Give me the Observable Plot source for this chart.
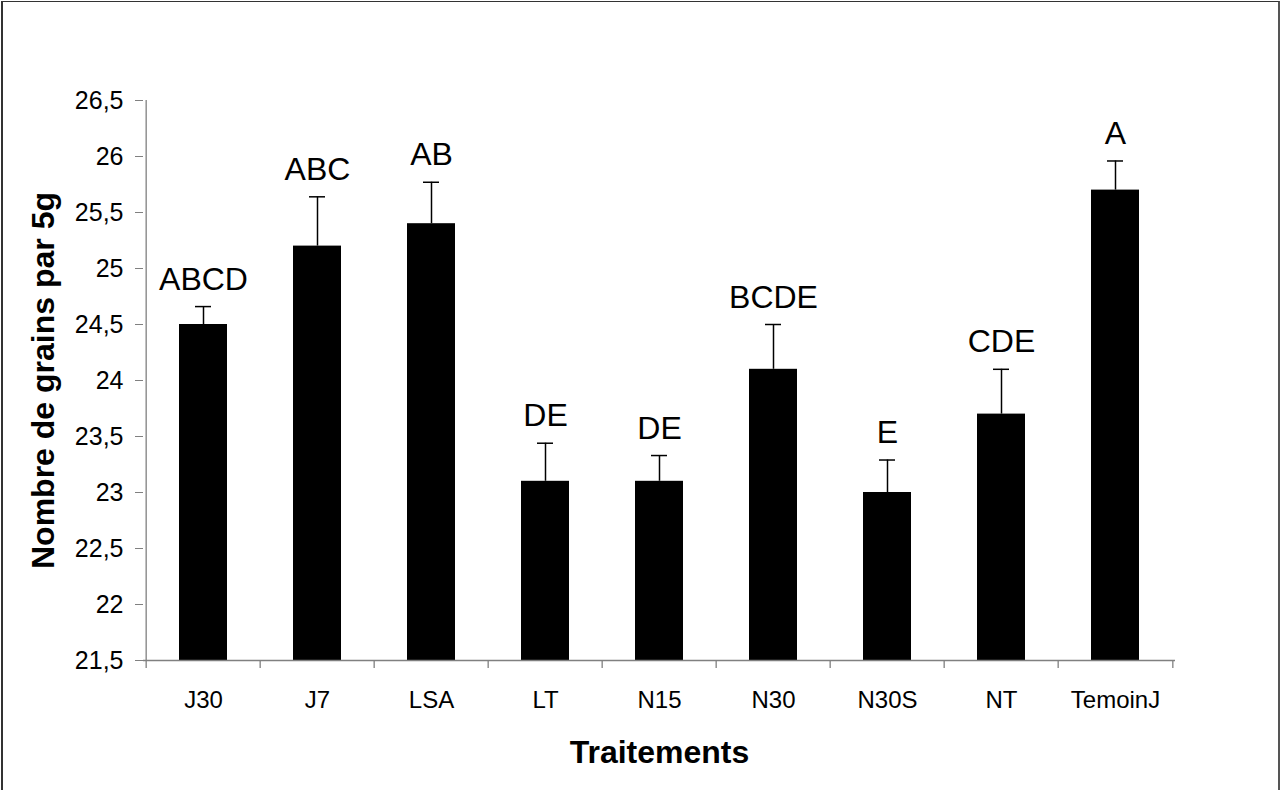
<!DOCTYPE html>
<html>
<head>
<meta charset="utf-8">
<script src="https://cdn.jsdelivr.net/npm/d3@7"></script>
<script src="https://cdn.jsdelivr.net/npm/@observablehq/plot@0.6"></script>
<style>
  html, body { margin: 0; padding: 0; background: #fff; }
  #wrap { position: relative; width: 1282px; height: 790px; overflow: hidden; }
  #frame { position: absolute; left: 1px; top: 1px; width: 1275px; height: 800px;
           border-left: 2px solid #333; border-top: 1px solid #333; border-right: 2px solid #555; }
  g[aria-label="y-axis tick label"] { font-size: 25px !important; }
  g[aria-label="x-axis tick label"] { font-size: 24px !important; }
</style>
</head>
<body>
<div id="wrap"><div id="frame"></div></div>
<script>
const categories = ["J30", "J7", "LSA", "LT", "N15", "N30", "N30S", "NT", "TemoinJ"];
const means = [24.5, 25.2, 25.4, 23.1, 23.1, 24.1, 23.0, 23.7, 25.7];
const errors = [0.16, 0.44, 0.37, 0.34, 0.23, 0.40, 0.29, 0.40, 0.26];
const letters = ["ABCD", "ABC", "AB", "DE", "DE", "BCDE", "E", "CDE", "A"];
const yTicks = [21.5, 22, 22.5, 23, 23.5, 24, 24.5, 25, 25.5, 26, 26.5];
const yDomain = [21.5, 26.5];
const xTitle = "Traitements";
const yTitle = "Nombre de grains par 5g";

const data = categories.map((c, i) => ({
  cat: c, value: means[i], top: means[i] + errors[i], letter: letters[i]
}));

const W = 1282, H = 790, mL = 143, mR = 107, mT = 100, mB = 130;
const step = (W - mL - mR) / categories.length;
const fmt = d => String(d).replace(".", ",");
const font = "'Liberation Sans', Arial, sans-serif";

const chart = Plot.plot({
  width: W, height: H,
  marginLeft: mL, marginRight: mR, marginTop: mT, marginBottom: mB,
  style: { fontFamily: font, fontSize: "24px", background: "transparent", color: "black", overflow: "visible" },
  x: { domain: categories, paddingInner: 0.58, paddingOuter: 0.29, axis: null },
  y: { domain: yDomain, axis: null },
  marks: [
    Plot.barY(data, { x: "cat", y1: yDomain[0], y2: "value", fill: "black" }),
    Plot.ruleX(data, { x: "cat", y1: "value", y2: "top", stroke: "black", strokeWidth: 1.5 }),
    Plot.tickY(data, { x: "cat", y: "top", stroke: "black", strokeWidth: 1.5, insetLeft: 16, insetRight: 16 }),
    Plot.text(data, { x: "cat", y: "top", text: "letter", lineAnchor: "bottom", dy: -17, fontSize: 32, fill: "black" }),
    // axes lines
    Plot.ruleY([yDomain[0]], { stroke: "#808080", strokeWidth: 1.3 }),
    Plot.ruleX([categories[0]], { x: d => d, dx: -step / 2, stroke: "#808080", strokeWidth: 1.3 }),
    // x tick marks at band boundaries
    Plot.ruleX(categories, { x: d => d, dx: -step / 2, y1: yDomain[0], y2: yDomain[0], insetBottom: -8, stroke: "#808080", strokeWidth: 1.3 }),
    Plot.ruleX([categories[categories.length - 1]], { x: d => d, dx: step / 2, y1: yDomain[0], y2: yDomain[0], insetBottom: -8, stroke: "#808080", strokeWidth: 1.3 }),
    Plot.axisY({ ticks: yTicks, tickFormat: fmt, tickSize: 8, tickPadding: 12, stroke: "#808080", fill: "black", label: null, fontSize: 25 }),
    Plot.axisX({ tickSize: 0, tickPadding: 30, label: null, fill: "black", fontSize: 24 }),
    Plot.text([xTitle], { frameAnchor: "bottom", dy: 102, lineAnchor: "bottom", textAnchor: "middle", fontSize: 32, fontWeight: "bold", fill: "black" }),
    Plot.text([yTitle], { frameAnchor: "left", dx: -90, rotate: -90, lineAnchor: "bottom", textAnchor: "middle", fontSize: 32, fontWeight: "bold", fill: "black" })
  ]
});
chart.style.position = "absolute";
chart.style.left = "0";
chart.style.top = "0";
document.getElementById("wrap").appendChild(chart);
</script>
</body>
</html>
